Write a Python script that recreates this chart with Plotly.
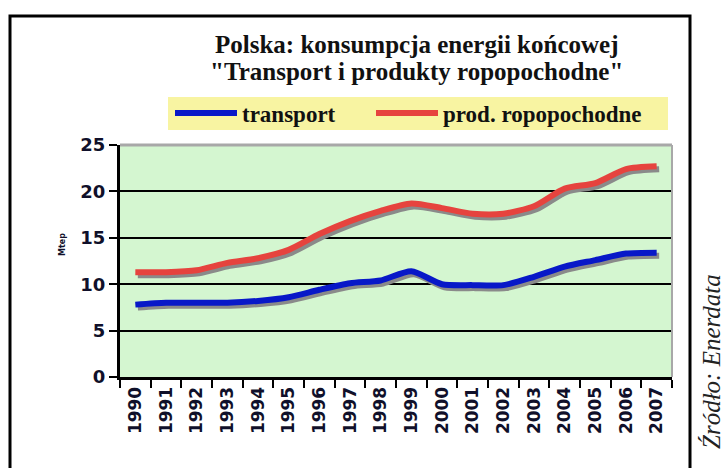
import plotly.graph_objects as go

years = ["1990", "1991", "1992", "1993", "1994", "1995", "1996", "1997", "1998",
         "1999", "2000", "2001", "2002", "2003", "2004", "2005", "2006", "2007"]
transport = [7.8, 8.0, 8.0, 8.0, 8.2, 8.6, 9.4, 10.1, 10.4, 11.4, 10.0, 9.9, 9.9,
             10.8, 11.9, 12.6, 13.3, 13.4]
ropopochodne = [11.3, 11.3, 11.5, 12.3, 12.8, 13.7, 15.4, 16.8, 17.9, 18.7, 18.2,
                17.6, 17.6, 18.4, 20.3, 20.9, 22.4, 22.7]
y_ticks = [0, 5, 10, 15, 20, 25]
series_names = ["transport", "prod. ropopochodne"]
title_lines = ["Polska: konsumpcja energii końcowej", "\"Transport i produkty ropopochodne\""]
y_title = "Mtep"
source = "Źródło: Enerdata"

BLUE = "#0818c8"
RED = "#e6433e"
SHADOW = "#8a8a8a"

W, H = 726, 468
ML, MR, MT, MB = 120, 54, 145, 91
PW = W - ML - MR
PH = H - MT - MB

def px_x(p):
    return (p - ML) / PW

def px_y(p):
    return (H - MB - p) / PH

dx_px, dy_px = 2.5, 3.0
n = len(years)
cat_w = PW / n
dx_u = dx_px / cat_w
dy_u = dy_px / (PH / 25.0)

fig = go.Figure()

for vals in (transport, ropopochodne):
    fig.add_trace(go.Scatter(x=years, y=vals, mode="lines",
                             line=dict(color=SHADOW, width=6, shape="spline", smoothing=0.7),
                             showlegend=False, hoverinfo="skip", xaxis="x", yaxis="y"))

for vals, name, col, lg in ((transport, series_names[0], BLUE, "legend"),
                            (ropopochodne, series_names[1], RED, "legend2")):
    fig.add_trace(go.Scatter(x=years, y=vals, mode="lines", name=name, legend=lg,
                             line=dict(color=col, width=6, shape="spline", smoothing=0.7),
                             xaxis="x2", yaxis="y2"))

tickfont_y = dict(family="DejaVu Sans", size=18, color="#10102a", weight="bold")
tickfont_x = dict(family="DejaVu Sans", size=17, color="#10102a", weight="bold")
serif_bold = dict(family="Liberation Serif", size=23, color="#111111", weight="bold")
title_font = dict(family="Liberation Serif", size=25, color="#111111", weight="bold")

legend_common = dict(orientation="h", xanchor="left", yanchor="middle", y=px_y(113),
                     bgcolor="rgba(0,0,0,0)", borderwidth=0, itemwidth=62, font=serif_bold)

fig.update_layout(
    width=W, height=H,
    margin=dict(l=ML, r=MR, t=MT, b=MB, autoexpand=False),
    paper_bgcolor="#ffffff",
    plot_bgcolor="#d4f6d0",
    showlegend=True,
    xaxis=dict(type="category", categoryarray=years, visible=False,
               range=[-0.5 - dx_u, n - 0.5 - dx_u]),
    yaxis=dict(visible=False, range=[dy_u, 25 + dy_u]),
    xaxis2=dict(type="category", categoryarray=years, overlaying="x",
                range=[-0.5, n - 0.5], tickangle=-90, tickfont=tickfont_x,
                ticks="outside", tickson="boundaries", ticklen=8, tickwidth=2,
                tickcolor="black", showline=True, linecolor="black", linewidth=3,
                showgrid=False, side="bottom", anchor="y2"),
    yaxis2=dict(overlaying="y", range=[0, 25], tickvals=y_ticks, tickfont=tickfont_y,
                ticks="outside", ticklen=8, tickwidth=2, tickcolor="black",
                showline=True, linecolor="black", linewidth=3,
                showgrid=True, gridcolor="black", gridwidth=2, zeroline=False,
                side="left", anchor="x2"),
    legend=dict(x=px_x(170), **legend_common),
    legend2=dict(x=px_x(371), **legend_common),
)

shapes = [
    dict(type="rect", xref="paper", yref="paper", x0=px_x(10), x1=px_x(690),
         y0=px_y(480), y1=px_y(16), line=dict(color="black", width=3), layer="below"),
    dict(type="rect", xref="paper", yref="paper", x0=px_x(168), x1=px_x(668),
         y0=px_y(130), y1=px_y(97), fillcolor="#f8f4a2", line=dict(width=0), layer="below"),
    dict(type="line", xref="paper", yref="paper", x0=0, x1=1, y0=1, y1=1,
         line=dict(color="#a8a8a8", width=3), layer="above"),
    dict(type="line", xref="paper", yref="paper", x0=1, x1=1, y0=0, y1=1,
         line=dict(color="#a8a8a8", width=2), layer="above"),
]
fig.update_layout(shapes=shapes)

for line, yc in zip(title_lines, (45, 72)):
    fig.add_annotation(text=line, xref="paper", yref="paper", x=px_x(416), y=px_y(yc),
                       xanchor="center", yanchor="middle", showarrow=False, font=title_font)

fig.add_annotation(text=y_title, xref="paper", yref="paper", x=px_x(62), y=px_y(245),
                   xanchor="center", yanchor="middle", textangle=-90, showarrow=False,
                   font=dict(family="DejaVu Sans", size=8, color="#10102a", weight="bold"))
fig.add_annotation(text=source, xref="paper", yref="paper", x=px_x(711), y=px_y(362),
                   xanchor="center", yanchor="middle", textangle=-90, showarrow=False,
                   font=dict(family="Liberation Serif", size=25, color="#222222", style="italic"))

fig.write_html("out.html", config={"displayModeBar": False},
               post_script="document.body.style.margin='0px';")
